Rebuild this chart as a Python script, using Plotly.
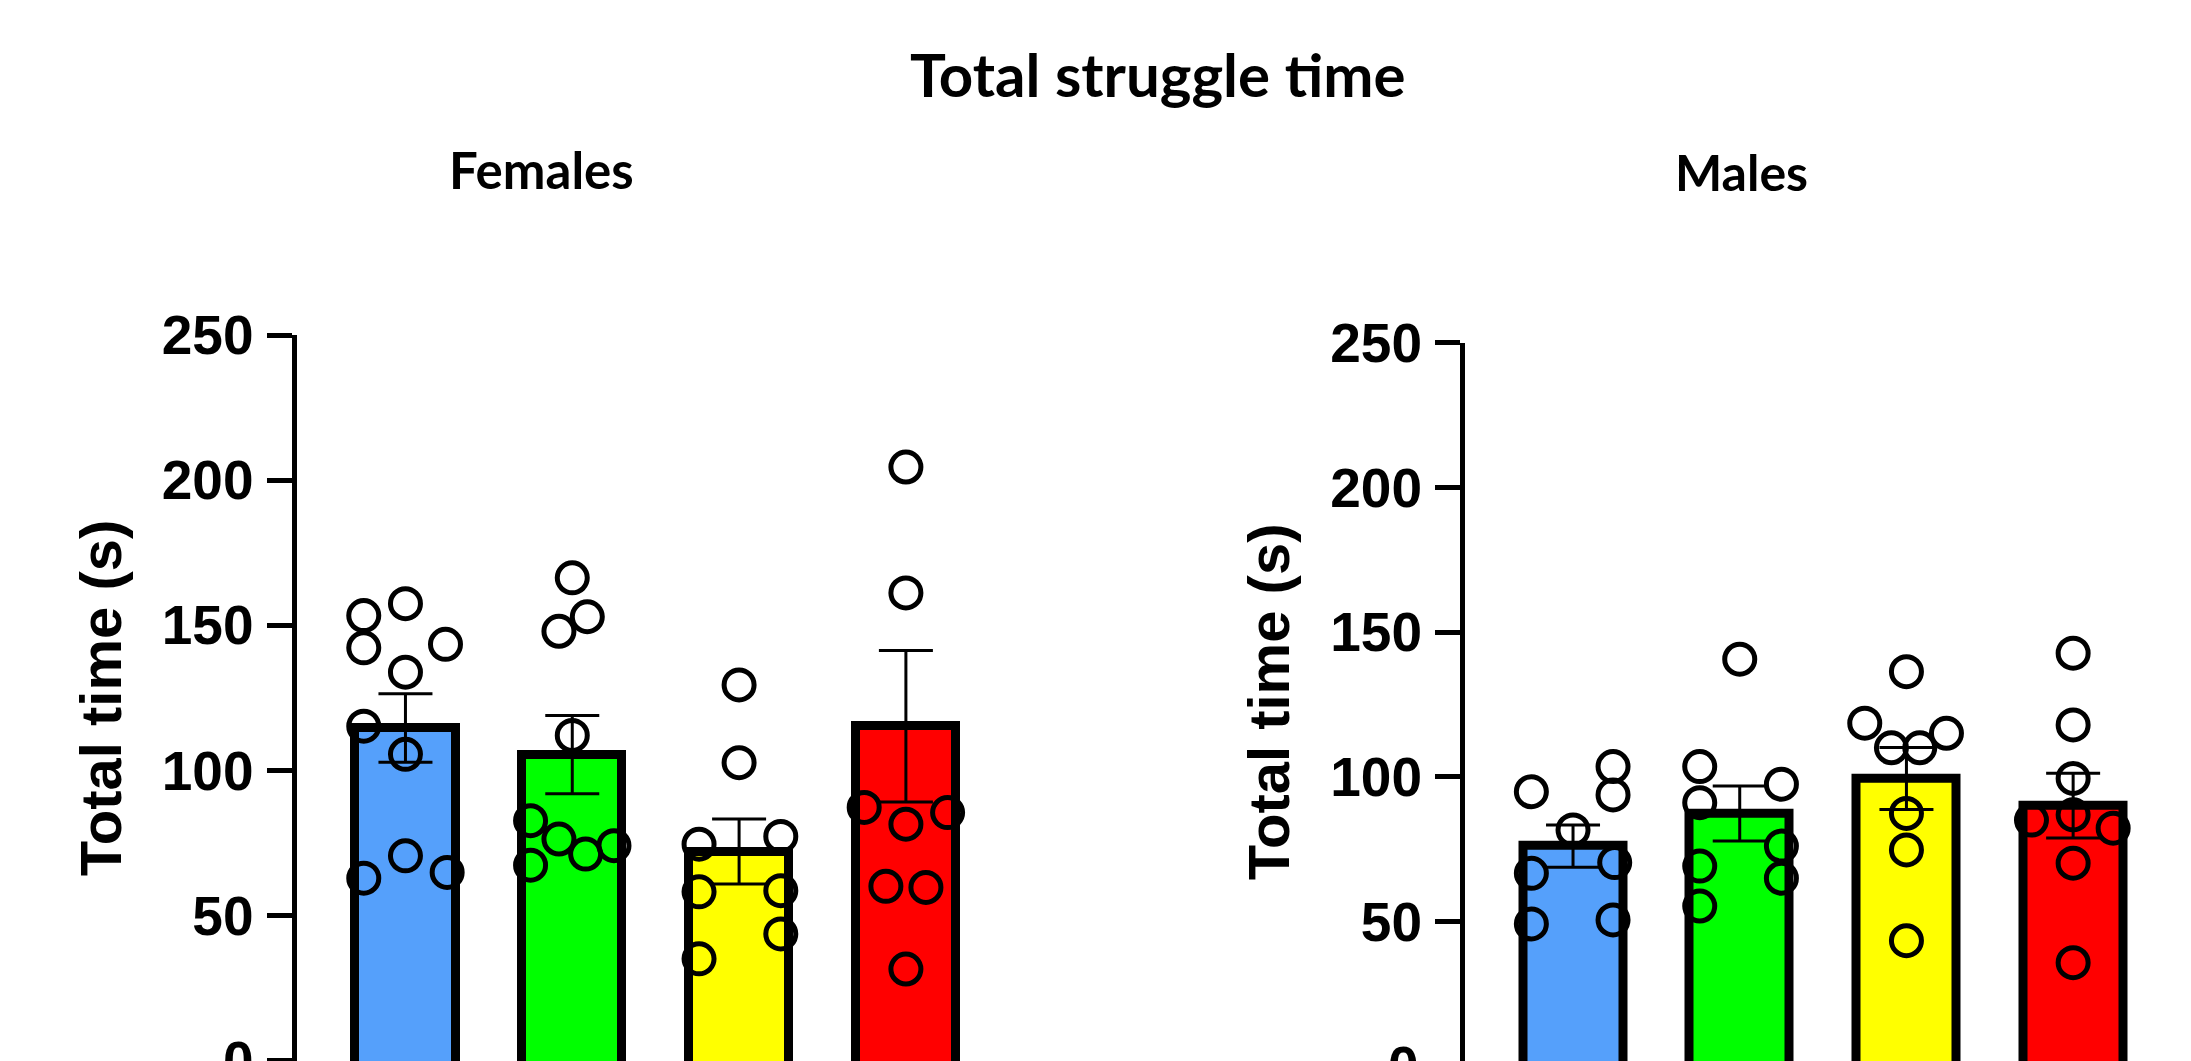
import plotly.graph_objects as go

W, H = 2191, 1061

# ---------------- data ----------------
group_pos = [0, 1, 2, 3]
bar_colors = ["#55A0FB", "#00FF00", "#FFFF00", "#FF0000"]

female_means = [114.6, 105.4, 72.0, 115.2]
female_sem = [11.8, 13.5, 11.2, 26.1]
male_means = [76.0, 87.3, 99.4, 90.0]
male_sem = [7.3, 9.5, 10.7, 11.2]

female_g1 = [153.3, 157.4, 142.2, 143.4, 133.8, 115.2, 105.5, 70.5, 62.8, 64.8]
female_g2 = [166.3, 152.9, 147.9, 112.0, 82.6, 76.3, 71.1, 74.0, 67.3]
female_g3 = [129.4, 102.6, 74.5, 77.2, 58.1, 58.5, 43.6, 35.0]
female_g4 = [204.5, 161.1, 87.2, 85.4, 81.4, 60.0, 59.6, 31.5]

male_g1 = [94.8, 103.5, 93.7, 81.6, 66.6, 70.3, 49.1, 50.5]
male_g2 = [140.6, 103.5, 97.4, 91.0, 76.0, 69.1, 64.9, 55.3]
male_g3 = [136.3, 118.5, 115.0, 110.0, 110.0, 87.3, 74.7, 43.3]
male_g4 = [142.7, 117.9, 99.4, 86.8, 85.0, 82.2, 70.1, 35.7]

# horizontal scatter (jitter) of the individual points, in category units
female_jit1 = [-0.25, 0.0, -0.25, 0.24, 0.0, -0.25, 0.0, 0.0, -0.25, 0.25]
female_jit2 = [0.0, 0.09, -0.08, 0.0, -0.25, -0.08, 0.08, 0.25, -0.25]
female_jit3 = [0.0, 0.0, -0.24, 0.25, -0.24, 0.25, 0.25, -0.24]
female_jit4 = [0.0, 0.0, -0.25, 0.25, 0.0, -0.12, 0.12, 0.0]

male_jit1 = [-0.25, 0.24, 0.24, 0.0, -0.25, 0.25, -0.25, 0.24]
male_jit2 = [0.0, -0.24, 0.25, -0.24, 0.25, -0.24, 0.25, -0.24]
male_jit3 = [0.0, -0.25, 0.24, -0.09, 0.08, 0.0, 0.0, 0.0]
male_jit4 = [0.0, 0.0, 0.0, 0.0, -0.25, 0.24, 0.0, 0.0]

y_ticks = [0, 50, 100, 150, 200, 250]

main_title = "Total struggle time"
panel_titles = ["Females", "Males"]
y_title = "Total time (s)"

# ---------------- figure ----------------
BAR_BASE = -8  # bars start below the visible area (bottom edge cut off as in the reference)
TICK_FONT = dict(family="Liberation Sans, Arial, sans-serif", size=55, color="black", weight="bold")
TITLE_FONT = dict(family="Liberation Sans, Arial, sans-serif", size=58, color="black", weight="bold")
HEAD_FAMILY = "Lato, Open Sans, sans-serif"

fig = go.Figure()


def add_panel(means, sem, pts, jits, xa, ya):
    fig.add_trace(go.Bar(
        x=group_pos, y=[m - BAR_BASE for m in means], base=BAR_BASE, width=0.6,
        marker=dict(color=bar_colors, line=dict(color="black", width=9)),
        xaxis=xa, yaxis=ya, showlegend=False, hoverinfo="skip"))
    fig.add_trace(go.Scatter(
        x=group_pos, y=means, mode="markers",
        marker=dict(size=1, opacity=0),
        error_y=dict(type="data", array=sem, visible=True, color="black", thickness=3, width=27),
        xaxis=xa, yaxis=ya, showlegend=False, hoverinfo="skip"))
    for g, (vals, jit) in enumerate(zip(pts, jits)):
        fig.add_trace(go.Scatter(
            x=[g + j for j in jit], y=vals, mode="markers",
            marker=dict(symbol="circle-open", size=30, color="black",
                        line=dict(width=5, color="black")),
            cliponaxis=False, xaxis=xa, yaxis=ya, showlegend=False))


add_panel(female_means, female_sem,
          [female_g1, female_g2, female_g3, female_g4],
          [female_jit1, female_jit2, female_jit3, female_jit4], "x", "y")
add_panel(male_means, male_sem,
          [male_g1, male_g2, male_g3, male_g4],
          [male_jit1, male_jit2, male_jit3, male_jit4], "x2", "y2")


def px_x(p):
    return p / W


def px_y(p):
    return 1 - p / H


yaxis_common = dict(
    showline=True, linecolor="black", linewidth=5, ticks="outside", ticklen=25,
    tickwidth=5, tickcolor="black", tickvals=y_ticks, tickfont=TICK_FONT,
    ticklabelstandoff=2, ticklabeloverflow="allow", showgrid=False, zeroline=False,
    anchor="free", automargin=False,
    title=dict(text=y_title, font=TITLE_FONT, standoff=20),
)
xaxis_common = dict(showticklabels=False, ticks="", showgrid=False, zeroline=False,
                    automargin=False)

fig.update_layout(
    width=W, height=H, autosize=False,
    margin=dict(l=0, r=0, t=0, b=0, autoexpand=False),
    paper_bgcolor="white", plot_bgcolor="rgba(0,0,0,0)",
    xaxis=dict(domain=[px_x(262), px_x(1022)], range=[-0.860, 3.696], anchor="y",
               showline=True, linecolor="#7f7f7f", linewidth=3, **xaxis_common),
    yaxis=dict(domain=[0, px_y(335)], range=[-0.2, 250], position=px_x(293.5), **yaxis_common),
    xaxis2=dict(domain=[px_x(1430.5), 1.0], range=[-0.855, 3.707], anchor="y2",
                showline=False, **xaxis_common),
    yaxis2=dict(domain=[0, px_y(342.7)], range=[1.73, 250], position=px_x(1462), **yaxis_common),
    bargap=0,
)

annotations = [
    dict(text=main_title, x=px_x(1158), y=px_y(74), xref="paper", yref="paper",
         xanchor="center", yanchor="middle", showarrow=False,
         font=dict(family=HEAD_FAMILY, size=60, color="black", weight="bold")),
    dict(text=panel_titles[0], x=px_x(541), y=px_y(170), xref="paper", yref="paper",
         xanchor="center", yanchor="middle", showarrow=False,
         font=dict(family=HEAD_FAMILY, size=51, color="black", weight="bold")),
    dict(text=panel_titles[1], x=px_x(1741.5), y=px_y(172), xref="paper", yref="paper",
         xanchor="center", yanchor="middle", showarrow=False,
         font=dict(family=HEAD_FAMILY, size=50, color="black", weight="bold")),
    # the "0" tick of the right panel sits just below the cut-off edge
    dict(text=str(y_ticks[0]), x=px_x(1421), y=px_y(1066), xref="paper", yref="paper",
         xanchor="right", yanchor="middle", showarrow=False, font=TICK_FONT),
]
fig.update_layout(annotations=annotations)

fig.write_html("out.html")
